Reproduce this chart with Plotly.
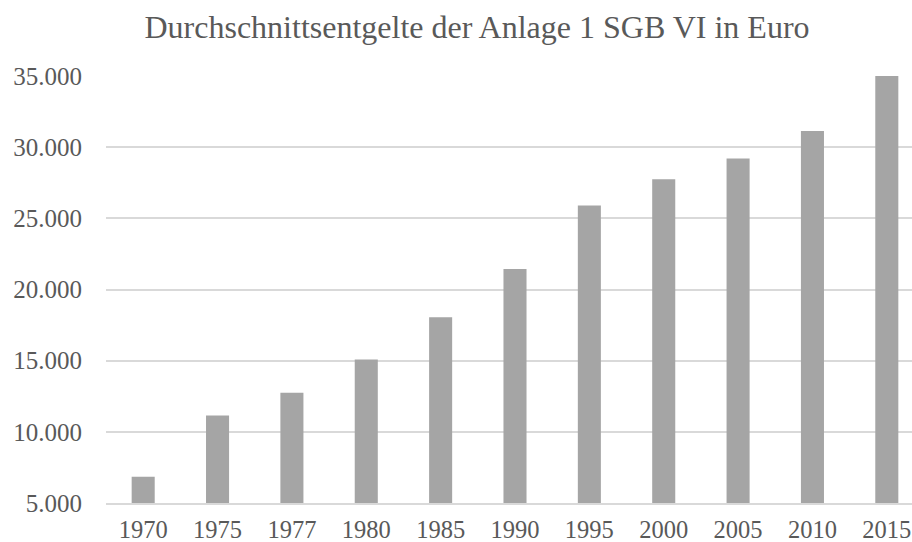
import plotly.graph_objects as go

years = ["1970", "1975", "1977", "1980", "1985", "1990", "1995", "2000", "2005", "2010", "2015"]
entgelte = [6843, 11150, 12754, 15076, 18042, 21447, 25905, 27741, 29202, 31144, 35363]
y_ticks = [5000, 10000, 15000, 20000, 25000, 30000, 35000]
y_tick_labels = ["5.000", "10.000", "15.000", "20.000", "25.000", "30.000", "35.000"]
title_text = "Durchschnittsentgelte der Anlage 1 SGB VI in Euro"

W, H = 912, 542
ml, mr, mt, mb = 105.5, 0, 75.7, 38.7
cat_w = 74.43
right_extent = 10.5 - (924 - 912) / cat_w

fig = go.Figure(go.Bar(
    x=list(range(len(years))), y=entgelte,
    marker=dict(color="#a5a5a5", line=dict(width=0)),
    width=0.31,
))

font_family = "Liberation Serif"
fig.update_layout(
    width=W, height=H,
    margin=dict(l=ml, r=mr, t=mt, b=mb, pad=0, autoexpand=False),
    paper_bgcolor="white", plot_bgcolor="white",
    showlegend=False,
    font=dict(family=font_family, color="#595959"),
    title=dict(text=title_text, x=477 / W, xanchor="center", xref="container",
               y=1 - 27 / H, yanchor="middle", yref="container",
               font=dict(family=font_family, size=32, color="#595959")),
)
fig.update_xaxes(
    range=[-0.5, right_extent], automargin=False,
    tickmode="array", tickvals=list(range(len(years))), ticktext=years,
    tickfont=dict(size=24.5, color="#595959"),
    showgrid=False, showline=True, linecolor="#d9d9d9", linewidth=1.5,
    ticks="", ticklabelstandoff=4, zeroline=False,
)
fig.update_yaxes(
    range=[5000, 35000], automargin=False,
    tickmode="array", tickvals=y_ticks, ticktext=y_tick_labels,
    tickfont=dict(size=25, color="#595959"),
    showgrid=True, gridcolor="#d9d9d9", gridwidth=1.5,
    showline=False, zeroline=False, ticks="", ticklabelstandoff=23,
)
fig.write_html("out.html",
               config={"displayModeBar": False},
               post_script="document.body.style.margin='0';document.body.style.overflow='hidden';")
